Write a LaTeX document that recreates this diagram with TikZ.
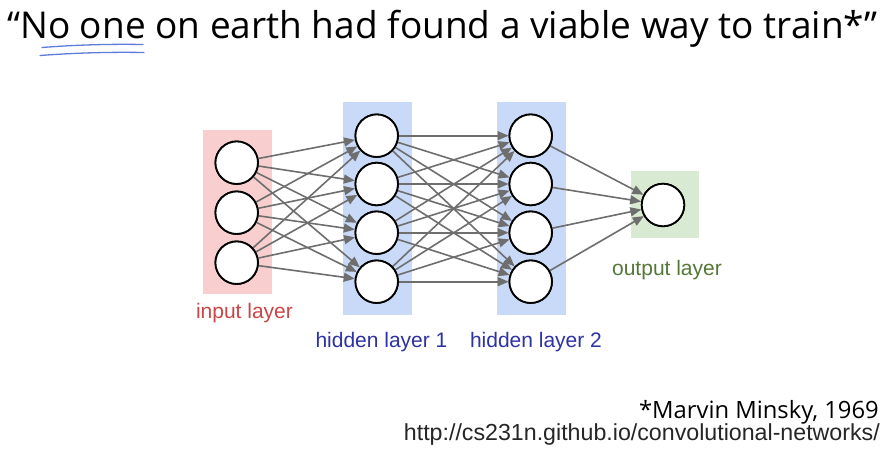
\documentclass[tikz,border=0pt]{standalone}
\usepackage{fontspec}
\setmainfont{Open Sans}
\setsansfont{Liberation Sans}
\usetikzlibrary{arrows.meta}
\definecolor{inbg}{RGB}{248,206,206}
\definecolor{hidbg}{RGB}{201,218,248}
\definecolor{outbg}{RGB}{217,234,211}
\definecolor{intext}{RGB}{200,70,70}
\definecolor{hidtext}{RGB}{45,50,165}
\definecolor{outtext}{RGB}{85,120,55}
\definecolor{edgegray}{RGB}{110,110,110}
\definecolor{scribble}{RGB}{95,125,220}
\tikzset{
  neuron/.style={circle,draw=black,line width=1.8pt,fill=white,minimum size=42.5pt,inner sep=0pt},
  conn/.style={draw=edgegray,line width=1.6pt,-{Triangle[length=11pt,width=9pt]}},
  lbl/.style={font=\sffamily\fontsize{21}{23}\selectfont,inner sep=0pt},
}
\begin{document}
\begin{tikzpicture}[x=1pt,y=-1pt]
\useasboundingbox (0,0) rectangle (886,450);
\fill[white] (0,0) rectangle (886,450);
% title
\node[inner sep=0pt,anchor=base west,font=\fontsize{37}{40}\selectfont] (title) at (7,38) {“No one on earth had found a viable way to train*”};
\draw[scribble,line width=1.3pt,line cap=round] (42,47.5) .. controls (80,44.5) and (115,44) .. (143,44.5);
\draw[scribble,line width=1.3pt,line cap=round] (40,55.5) .. controls (80,52.5) and (115,52) .. (144,52.5);
% layer backgrounds
\fill[inbg] (203,130) rectangle (272,294);
\fill[hidbg] (343,102) rectangle (412,315);
\fill[hidbg] (497,102) rectangle (566,315);
\fill[outbg] (631,171) rectangle (699,238);
% neurons
\foreach \i/\y in {1/162.7,2/212.7,3/262.7} \node[neuron] (i\i) at (236.7,\y) {};
\foreach \i/\y in {1/135.7,2/184,3/232.7,4/281.7} {
  \node[neuron] (a\i) at (376.7,\y) {};
  \node[neuron] (b\i) at (530.7,\y) {};
}
\node[neuron] (o) at (663,205) {};
% connections
\foreach \s in {1,2,3} \foreach \t in {1,2,3,4} \draw[conn] (i\s) -- (a\t);
\foreach \s in {1,2,3,4} \foreach \t in {1,2,3,4} \draw[conn] (a\s) -- (b\t);
\foreach \s in {1,2,3,4} \draw[conn] (b\s) -- (o);
% redraw neurons on top
\foreach \n in {i1,i2,i3,a1,a2,a3,a4,b1,b2,b3,b4,o} \node[neuron] at (\n) {};
% labels
\node[lbl,text=intext] (lin) at (244.5,313) {input layer};
\node[lbl,text=hidtext] (lh1) at (381.5,342) {hidden layer 1};
\node[lbl,text=hidtext] (lh2) at (536,342) {hidden layer 2};
\node[lbl,text=outtext] (lout) at (667,270) {output layer};
% citation
\node[inner sep=0pt,anchor=base east,font=\fontsize{23.8}{26}\selectfont] (cite) at (879,418) {*Marvin Minsky, 1969};
\node[inner sep=0pt,anchor=base east,font=\sffamily\fontsize{23.2}{25}\selectfont,text=black!85] (url) at (880,440) {http://cs231n.github.io/convolutional-networks/};
\end{tikzpicture}
\end{document}
